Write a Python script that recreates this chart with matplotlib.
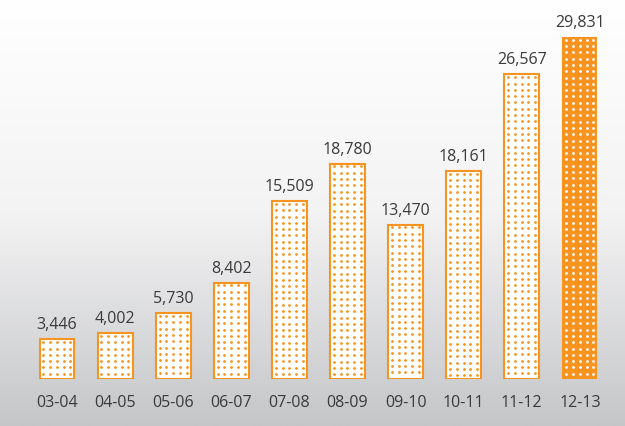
import matplotlib.pyplot as plt
import numpy as np
from matplotlib.colors import LinearSegmentedColormap

years = ["03-04", "04-05", "05-06", "06-07", "07-08",
         "08-09", "09-10", "10-11", "11-12", "12-13"]
values = [3446, 4002, 5730, 8402, 15509, 18780, 13470, 18161, 26567, 29831]

orange = "#f7931e"
text_color = "#3a3a3a"

fig = plt.figure(figsize=(6.25, 4.26), dpi=100)

# background gradient, white on top to light grey at the bottom
bg = fig.add_axes([0, 0, 1, 1])
grad = np.linspace(0, 1, 256).reshape(-1, 1)
cmap = LinearSegmentedColormap.from_list("bg", ["#ffffff", "#f3f3f4", "#c5c6c8"])
bg.imshow(grad, aspect="auto", cmap=cmap, extent=[0, 1, 0, 1], origin="upper")
bg.set_axis_off()

ax = fig.add_axes([0, 47 / 426, 1, 379 / 426])
ax.patch.set_alpha(0)
ax.set_xlim(-0.981, 9.776)
ax.set_ylim(0, 29831 * 379 / 342)
ax.set_axis_off()

# pixel sizes in data units
px_x = 1 / 58.1
px_y = 29831 / 342
width = 0.6

x = np.arange(len(years))
for i, v in enumerate(values):
    last = i == len(values) - 1
    if last:
        ax.bar(x[i], v, width=width, color=orange, linewidth=0, zorder=2)
    else:
        ax.bar(x[i], v, width=width, facecolor="white", edgecolor=orange,
               linewidth=1.5, zorder=2)
    # dotted fill
    cols = x[i] - width / 2 + (3.8 + 6.75 * np.arange(5)) * px_x
    top_px = v / px_y
    rows = top_px - 2.8 - 6.3 * np.arange(int((top_px - 5) / 6.3) + 1)
    gx, gy = np.meshgrid(cols, rows * px_y)
    ax.plot(gx.ravel(), gy.ravel(), "o", ms=2.0, mew=0,
            color="white" if last else orange, zorder=3)
    ax.text(x[i], v + 6 * px_y, f"{v:,}", ha="center", va="bottom",
            fontsize=11.5, color=text_color, family="Open Sans")

for i, lab in enumerate(years):
    ax.text(x[i], -24 * px_y, lab, ha="center", va="center",
            fontsize=11.5, color=text_color, family="Open Sans")

fig.savefig("out.png", dpi=100)
